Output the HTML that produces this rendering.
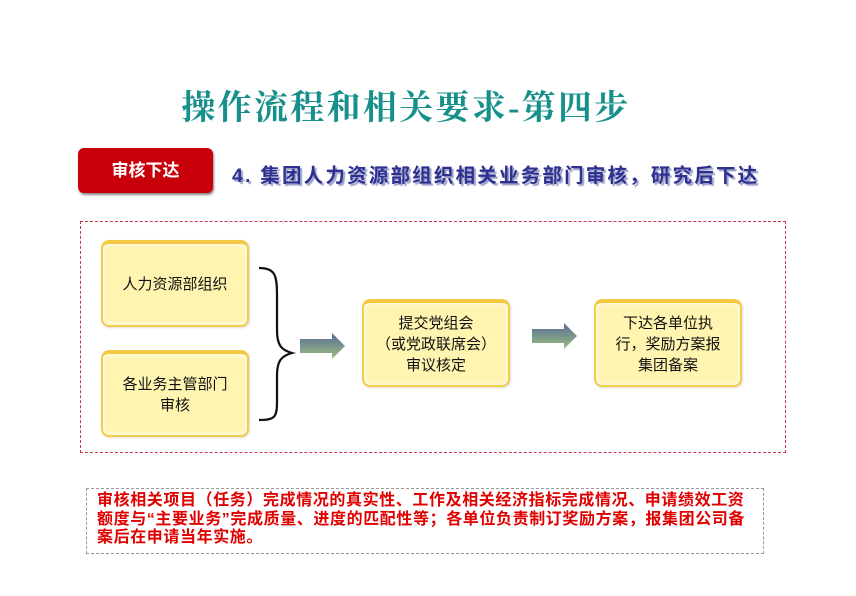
<!DOCTYPE html>
<html><head><meta charset="utf-8"><style>
body{margin:0;width:856px;height:596px;background:#fff;position:relative;overflow:hidden;font-family:"Liberation Sans","Noto Sans CJK SC",sans-serif}
.a{position:absolute}
.title{left:150px;width:512px;top:80px;text-align:center;font-family:"Liberation Serif","Noto Serif CJK SC",serif;font-weight:bold;font-size:34px;color:#17908c;white-space:nowrap;letter-spacing:2.3px;padding-left:0px;box-sizing:border-box}
.btn{left:78px;top:148px;width:135px;height:45px;background:#c8000a;border-radius:6px;color:#fff;font-size:17px;font-weight:bold;line-height:45px;text-align:center;box-shadow:1px 2px 2px #888}
.sub{left:232px;top:159px;font-size:19.5px;font-weight:bold;color:#2e3090;white-space:nowrap;letter-spacing:2.2px;text-shadow:2px 2px 1px #9aa0c8}
.frame{left:80px;top:221px;width:704px;height:230px;border:1px dashed #c8384a}
.box{background:#fff4b0;border:2px solid #f3cc4a;border-top:4px solid #f5c844;border-radius:8px;display:flex;align-items:center;justify-content:center;text-align:center;font-size:15px;line-height:21px;color:#111;box-shadow:inset 0 0 6px #fff,1px 1px 2px #ddd}
.note{left:86px;top:488px;width:678px;height:66px;border:1px dashed #999;color:#e00000;font-weight:bold;font-size:16px;line-height:18.5px;padding:3px 0 0 10px;box-sizing:border-box;white-space:nowrap;letter-spacing:0.6px}
</style></head><body>
<div class="a title">操作流程和相关要求-第四步</div>
<div class="a btn">审核下达</div>
<div class="a sub">4. 集团人力资源部组织相关业务部门审核，研究后下达</div>
<div class="a frame"></div>
<div class="a box" style="left:101px;top:240px;width:144px;height:81px">人力资源部组织</div>
<div class="a box" style="left:101px;top:350px;width:144px;height:81px">各业务主管部门<br>审核</div>
<svg class="a" style="left:255px;top:265px" width="45" height="160"><path d="M4 3 C20 3,22 10,22 30 L22 65 C22 80,26 85,37 88 C26 91,22 96,22 111 L22 137 C22 152,20 155,4 155" fill="none" stroke="#111" stroke-width="2.2"/></svg>
<svg class="a" style="left:298px;top:331px" width="50" height="30"><defs><linearGradient id="g" x1="0" y1="0" x2="0" y2="1"><stop offset="0" stop-color="#5a6a9a"/><stop offset="1" stop-color="#9ac080"/></linearGradient></defs><polygon points="2,8 34,8 34,2 47,15 34,28 34,22 2,22" fill="url(#g)"/></svg>
<svg class="a" style="left:530px;top:321px" width="50" height="30"><polygon points="2,8 34,8 34,2 47,15 34,28 34,22 2,22" fill="url(#g)"/></svg>
<div class="a box" style="left:362px;top:299px;width:144px;height:82px">提交党组会<br>（或党政联席会）<br>审议核定</div>
<div class="a box" style="left:594px;top:299px;width:144px;height:82px">下达各单位执<br>行，奖励方案报<br>集团备案</div>
<div class="a note">审核相关项目（任务）完成情况的真实性、工作及相关经济指标完成情况、申请绩效工资<br>额度与“主要业务”完成质量、进度的匹配性等；各单位负责制订奖励方案，报集团公司备<br>案后在申请当年实施。</div>
</body></html>
